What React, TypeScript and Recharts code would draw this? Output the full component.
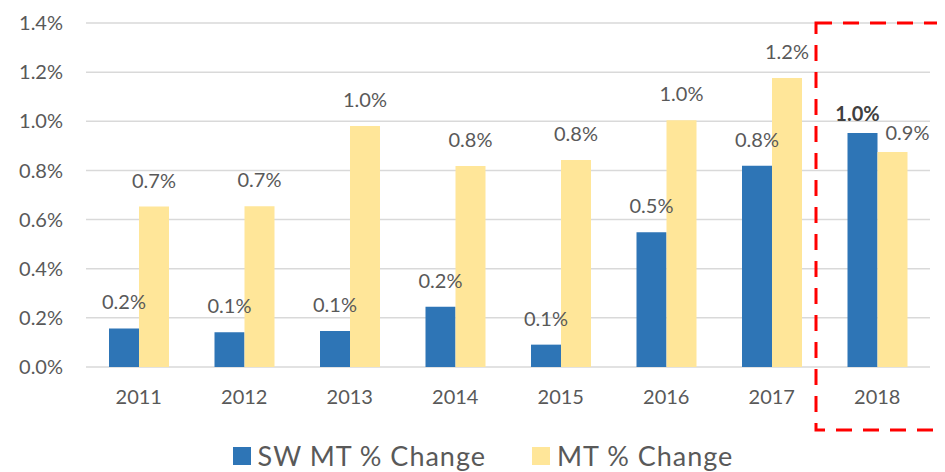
import React from 'react';
import { BarChart, Bar, XAxis, YAxis, CartesianGrid, Legend, LabelList } from 'recharts';

const years = ['2011', '2012', '2013', '2014', '2015', '2016', '2017', '2018'];
const swMtChange = [0.157, 0.141, 0.147, 0.245, 0.091, 0.548, 0.819, 0.952];
const mtChange = [0.653, 0.654, 0.981, 0.818, 0.842, 1.004, 1.176, 0.875];
const yTicks = [0, 0.2, 0.4, 0.6, 0.8, 1.0, 1.2, 1.4];

const BLUE = '#2e75b6';
const YELLOW = '#ffe699';
const TEXT = '#595959';
const FONT = 'Lato, "Open Sans", sans-serif';

const data = years.map((year, i) => ({
  year,
  sw: swMtChange[i],
  mt: mtChange[i]
}));

const fmt = (v: number) => `${v.toFixed(1)}%`;

// the last year's labels sit closer to the bars (hand placed in the original)
const makeLabel = (series: 'sw' | 'mt') => (props: any) => {
  const { x, y, width, value, index } = props;
  const last = index === years.length - 1;
  const dx = last ? (series === 'mt' ? 15 : -5) : 0;
  const lift = last ? 12 : 19;
  return (
    <text
      x={Number(x) + Number(width) / 2 + dx}
      y={Number(y) - lift}
      textAnchor="middle"
      fill={last && series === 'sw' ? '#404040' : TEXT}
      fontWeight={last && series === 'sw' ? 700 : 400}
      fontSize={20}
      fontFamily={FONT}
    >
      {fmt(Number(value))}
    </text>
  );
};

const legendItems = [
  { label: 'SW MT % Change', color: BLUE },
  { label: 'MT % Change', color: YELLOW }
];

function LegendContent() {
  return (
    <div
      style={{
        display: 'flex',
        justifyContent: 'center',
        alignItems: 'center',
        gap: 46,
        paddingTop: 25,
        paddingLeft: 36,
        fontFamily: FONT,
        fontSize: 27,
        lineHeight: '27px',
        letterSpacing: 1,
        color: TEXT
      }}
    >
      {legendItems.map((item) => (
        <div key={item.label} style={{ display: 'flex', alignItems: 'center', gap: 7 }}>
          <span style={{ width: 18, height: 18, background: item.color, display: 'inline-block' }} />
          <span>{item.label}</span>
        </div>
      ))}
    </div>
  );
}

export default function App() {
  return (
    <div style={{ position: 'relative', width: 945, height: 472, margin: '-8px -8px 0 -8px', background: '#fff' }}>
      <div style={{ position: 'absolute', left: 1, top: 0, width: 1, height: 472, background: '#e3e3e3' }} />
      <BarChart
        width={945}
        height={472}
        data={data}
        margin={{ top: 23, right: 15, bottom: 0, left: 0 }}
        barGap={0}
        barSize={30}
      >
        <CartesianGrid vertical={false} stroke="#d9d9d9" strokeWidth={1.5} />
        <XAxis
          dataKey="year"
          axisLine={false}
          tickLine={false}
          tickSize={0}
          tickMargin={23}
          height={50}
          tick={{ fill: TEXT, fontSize: 20, fontFamily: FONT }}
        />
        <YAxis
          domain={[0, 1.4]}
          ticks={yTicks}
          tickFormatter={fmt}
          axisLine={false}
          tickLine={false}
          tickSize={0}
          tickMargin={23}
          width={86}
          tick={{ fill: TEXT, fontSize: 20, fontFamily: FONT }}
        />
        <Legend verticalAlign="bottom" height={55} content={<LegendContent />} />
        <Bar dataKey="sw" name="SW MT % Change" fill={BLUE} isAnimationActive={false}>
          <LabelList dataKey="sw" content={makeLabel('sw')} />
        </Bar>
        <Bar dataKey="mt" name="MT % Change" fill={YELLOW} isAnimationActive={false}>
          <LabelList dataKey="mt" content={makeLabel('mt')} />
        </Bar>
      </BarChart>
      <svg
        width={945}
        height={472}
        style={{ position: 'absolute', left: 0, top: 0, pointerEvents: 'none' }}
      >
        <rect
          x={816}
          y={23}
          width={125}
          height={407}
          fill="none"
          stroke="#ff0000"
          strokeWidth={3}
          strokeDasharray="16 11"
        />
      </svg>
    </div>
  );
}
